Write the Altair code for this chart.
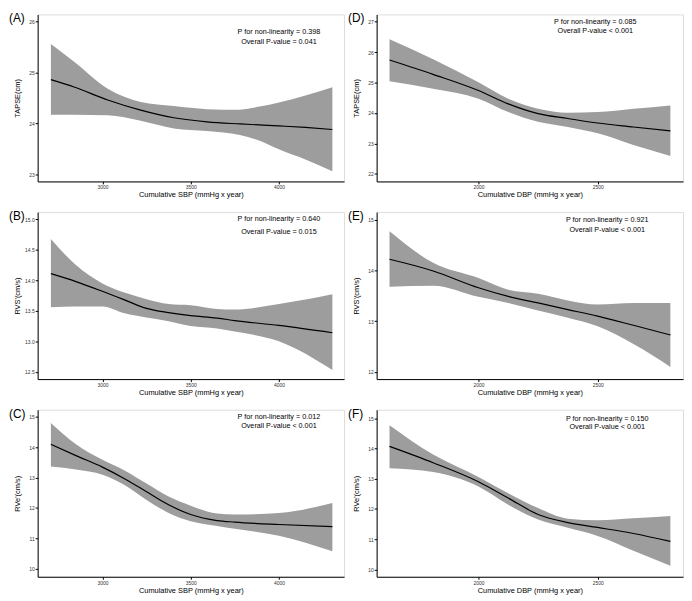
import altair as alt
import pandas as pd

FONT = "Liberation Sans"
BAND = "#9d9d9d"

# ---------------- data ----------------
a_x = [2708, 2843, 3030, 3217, 3405, 3592, 3779, 3891, 4000, 4150, 4303]
a_fit = [24.86, 24.71, 24.46, 24.26, 24.11, 24.03, 23.99, 23.97, 23.95, 23.92, 23.88]
a_hi = [25.56, 25.20, 24.68, 24.42, 24.34, 24.28, 24.27, 24.33, 24.41, 24.55, 24.71]
a_lo = [24.17, 24.17, 24.16, 24.05, 23.90, 23.85, 23.77, 23.66, 23.49, 23.29, 23.06]

sbp_x = [2708, 2850, 3000, 3125, 3250, 3375, 3500, 3650, 3750, 4000, 4303]
b_fit = [14.11, 13.98, 13.82, 13.68, 13.54, 13.47, 13.42, 13.38, 13.34, 13.26, 13.14]
b_hi = [14.68, 14.25, 13.95, 13.80, 13.69, 13.61, 13.59, 13.53, 13.52, 13.61, 13.77]
b_lo = [13.56, 13.57, 13.57, 13.46, 13.39, 13.33, 13.25, 13.21, 13.16, 13.00, 12.53]

c_fit = [14.09, 13.72, 13.34, 12.96, 12.53, 12.10, 11.78, 11.58, 11.53, 11.45, 11.38]
c_hi = [14.79, 14.09, 13.58, 13.23, 12.80, 12.37, 12.07, 11.81, 11.78, 11.83, 12.16]
c_lo = [13.36, 13.26, 13.09, 12.75, 12.26, 11.83, 11.56, 11.40, 11.31, 11.08, 10.57]

dbp_x = [1627, 1810, 2000, 2125, 2250, 2375, 2500, 2650, 2805]
d_fit = [25.74, 25.27, 24.74, 24.30, 23.98, 23.82, 23.67, 23.54, 23.41]
d_hi = [26.42, 25.77, 25.01, 24.47, 24.14, 24.01, 24.03, 24.14, 24.25]
d_lo = [25.04, 24.80, 24.47, 24.03, 23.71, 23.54, 23.33, 22.95, 22.59]

e_fit = [14.22, 13.99, 13.66, 13.49, 13.36, 13.23, 13.10, 12.92, 12.73]
e_hi = [14.77, 14.15, 13.85, 13.62, 13.54, 13.41, 13.33, 13.36, 13.36]
e_lo = [13.68, 13.70, 13.48, 13.36, 13.21, 13.07, 12.90, 12.55, 12.10]

f_fit = [14.07, 13.53, 12.90, 12.36, 11.82, 11.55, 11.39, 11.19, 10.93]
f_hi = [14.77, 13.80, 13.06, 12.52, 12.03, 11.68, 11.63, 11.69, 11.77]
f_lo = [13.35, 13.22, 12.74, 12.14, 11.65, 11.38, 11.11, 10.62, 10.12]

sbp_ticks = [3000, 3500, 4000]
dbp_ticks = [2000, 2500]
sbp_dom = [2633, 4369]
dbp_dom = [1573, 2858]
sbp_title = "Cumulative SBP (mmHg x year)"
dbp_title = "Cumulative DBP (mmHg x year)"

W, H = 310, 169


def panel(xs, fit, lo, hi, xdom, xticks, xtitle, ydom, yticks, yfmt, ytitle,
          label, ann, ann_x, ann_y):
    df = pd.DataFrame({"x": xs, "fit": fit, "lo": lo, "hi": hi})
    xscale = alt.Scale(domain=xdom, nice=False, zero=False)
    yscale = alt.Scale(domain=ydom, nice=False, zero=False)
    common = dict(grid=False, domainColor="black", domainWidth=1,
                  tickColor="black", tickSize=2.5, tickWidth=1,
                  labelFontSize=5, labelColor="#333333", labelFont=FONT,
                  labelPadding=1, titleFontSize=7.5, titleFontWeight="normal",
                  titleColor="black", titleFont=FONT, titleBaseline="middle")
    xaxis = alt.Axis(values=xticks, format="d", title=xtitle, titleY=13.5, **common)
    yaxis = alt.Axis(values=yticks, format=yfmt, title=ytitle, titleX=-20,
                     titleY=H / 2, titleAlign="center", titleAngle=-90, **common)
    xenc = alt.X("x:Q", scale=xscale, axis=xaxis)
    base = alt.Chart(df)
    band = base.mark_area(color=BAND, opacity=1, interpolate="monotone").encode(
        x=xenc, y=alt.Y("lo:Q", scale=yscale, axis=yaxis), y2="hi:Q")
    line = base.mark_line(color="black", strokeWidth=1.2,
                          interpolate="monotone").encode(
        x=xenc, y=alt.Y("fit:Q", scale=yscale, axis=yaxis))
    adf = pd.DataFrame({"ax": [ann_x, ann_x], "ay": ann_y, "t": ann})
    txt = alt.Chart(adf).mark_text(font=FONT, fontSize=7.3, color="black",
                                   align="center", baseline="middle").encode(
        x=alt.X("ax:Q", scale=xscale, axis=xaxis),
        y=alt.Y("ay:Q", scale=yscale, axis=yaxis), text="t:N")
    lab = alt.Chart(pd.DataFrame({"t": [label]})).mark_text(
        font=FONT, fontSize=12, color="black", align="left",
        baseline="alphabetic").encode(x=alt.value(-29), y=alt.value(8), text="t:N")
    return alt.layer(band, line, txt, lab).properties(width=W, height=H)


pA = panel(a_x, a_fit, a_lo, a_hi, sbp_dom, sbp_ticks, sbp_title,
           [22.86, 26.14], [23, 24, 25, 26], "d", "TAPSE(cm)", "(A)",
           ["P for non-linearity = 0.398", "Overall P-value = 0.041"], 4000, [25.8, 25.6])
pB = panel(sbp_x, b_fit, b_lo, b_hi, sbp_dom, sbp_ticks, sbp_title,
           [12.38, 15.12], [12.5, 13.0, 13.5, 14.0, 14.5, 15.0], ".1f", "RVS'(cm/s)", "(B)",
           ["P for non-linearity = 0.640", "Overall P-value = 0.015"], 4000, [15.0, 14.8])
pC = panel(sbp_x, c_fit, c_lo, c_hi, sbp_dom, sbp_ticks, sbp_title,
           [9.73, 15.23], [10, 11, 12, 13, 14, 15], "d", "RVe'(cm/s)", "(C)",
           ["P for non-linearity = 0.012", "Overall P-value < 0.001"], 4000, [14.98, 14.71])
pD = panel(dbp_x, d_fit, d_lo, d_hi, dbp_dom, dbp_ticks, dbp_title,
           [21.75, 27.24], [22, 23, 24, 25, 26, 27], "d", "TAPSE(cm)", "(D)",
           ["P for non-linearity = 0.085", "Overall P-value < 0.001"], 2490, [27.0, 26.7])
pE = panel(dbp_x, e_fit, e_lo, e_hi, dbp_dom, dbp_ticks, dbp_title,
           [11.86, 15.15], [12, 13, 14, 15], "d", "RVS'(cm/s)", "(E)",
           ["P for non-linearity = 0.921", "Overall P-value < 0.001"], 2540, [15.0, 14.8])
pF = panel(dbp_x, f_fit, f_lo, f_hi, dbp_dom, dbp_ticks, dbp_title,
           [9.76, 15.28], [10, 11, 12, 13, 14, 15], "d", "RVe'(cm/s)", "(F)",
           ["P for non-linearity = 0.150", "Overall P-value < 0.001"], 2540, [14.98, 14.71])

chart = alt.concat(pA, pD, pB, pE, pC, pF, columns=2,
                   spacing={"row": 31, "column": 33}, bounds="flush").properties(
    padding=0, background="white"
).configure_view(stroke=None).configure(font=FONT)

chart.save("out.html", embed_options={"renderer": "svg", "actions": False})
